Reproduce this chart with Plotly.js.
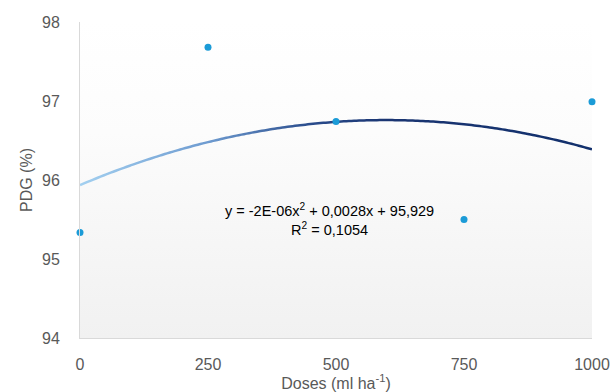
<!DOCTYPE html>
<html>
<head>
<meta charset="utf-8">
<script src="https://cdn.plot.ly/plotly-3.0.1.min.js"></script>
<style>html,body{margin:0;padding:0;background:#fff;}#chart{width:613px;height:392px;}</style>
</head>
<body>
<div id="chart"></div>
<script>
// Data
const doses = [0, 250, 500, 750, 1000];
const pdg = [95.335, 97.68, 96.74, 95.5, 96.99];
const xTicks = [0, 250, 500, 750, 1000];
const yTicks = [94, 95, 96, 97, 98];
const equationText = 'y = -2E-06x<sup>2</sup> + 0,0028x + 95,929<br>R<sup>2</sup> = 0,1054';
const xTitle = 'Doses (ml ha<sup>-1</sup>)';
const yTitle = 'PDG (%)';

// Polynomial (order 2) least-squares trendline computed from the data
function polyFit2(xs, ys) {
  let S = [0,0,0,0,0], T = [0,0,0];
  for (let i = 0; i < xs.length; i++) {
    let p = 1;
    for (let k = 0; k < 5; k++) { S[k] += p; if (k < 3) T[k] += p * ys[i]; p *= xs[i]; }
  }
  const A = [[S[0],S[1],S[2],T[0]],[S[1],S[2],S[3],T[1]],[S[2],S[3],S[4],T[2]]];
  for (let c = 0; c < 3; c++) {
    for (let r = c + 1; r < 3; r++) {
      const f = A[r][c] / A[c][c];
      for (let k = c; k < 4; k++) A[r][k] -= f * A[c][k];
    }
  }
  const coef = [0,0,0];
  for (let r = 2; r >= 0; r--) {
    let s = A[r][3];
    for (let k = r + 1; k < 3; k++) s -= A[r][k] * coef[k];
    coef[r] = s / A[r][r];
  }
  return coef; // c0 + c1 x + c2 x^2
}
const coef = polyFit2(doses, pdg);
const trendX = [], trendY = [];
for (let i = 0; i <= 100; i++) {
  const x = doses[0] + (doses[doses.length-1] - doses[0]) * i / 100;
  trendX.push(x);
  trendY.push(coef[0] + coef[1]*x + coef[2]*x*x);
}

const font = 'Liberation Sans, Arial, sans-serif';
const traces = [
  {x: trendX, y: trendY, type: 'scatter', mode: 'lines',
   line: {color: '#1F3C7A', width: 2.5, shape: 'spline'}, hoverinfo: 'skip', showlegend: false},
  {x: doses, y: pdg, type: 'scatter', mode: 'markers',
   marker: {color: '#1B9BD7', size: 7}, showlegend: false, cliponaxis: false}
];
const layout = {
  width: 613, height: 392,
  margin: {l: 80, r: 21, t: 22, b: 54},
  paper_bgcolor: '#ffffff',
  plot_bgcolor: '#f7f7f7',
  font: {family: font, color: '#595959', size: 16},
  showlegend: false,
  xaxis: {
    range: [0, 1000], tickvals: xTicks, ticktext: xTicks.map(String),
    showgrid: false, zeroline: false, showline: true, linecolor: '#D9D9D9', linewidth: 1,
    ticks: 'outside', ticklen: 12, tickcolor: 'rgba(0,0,0,0)',
    tickfont: {size: 16, color: '#595959'},
    title: {text: xTitle, font: {size: 16, color: '#595959'}, standoff: 8},
    fixedrange: true
  },
  yaxis: {
    range: [94, 98], tickvals: yTicks, ticktext: yTicks.map(String),
    showgrid: false, zeroline: false, showline: true, linecolor: '#D9D9D9', linewidth: 1,
    ticks: 'outside', ticklen: 16, tickcolor: 'rgba(0,0,0,0)',
    tickfont: {size: 16, color: '#595959'},
    title: {text: yTitle, font: {size: 16, color: '#595959'}, standoff: 5},
    fixedrange: true
  },
  annotations: [{
    x: 488, y: 95.5, xref: 'x', yref: 'y', text: equationText, showarrow: false,
    font: {family: font, size: 14.5, color: '#000000'}, align: 'center',
    xanchor: 'center', yanchor: 'middle'
  }]
};
Plotly.newPlot('chart', traces, layout, {staticPlot: true, displayModeBar: false}).then(function(gd) {
  const svg = gd.querySelector('svg.main-svg');
  const ns = 'http://www.w3.org/2000/svg';
  let defs = svg.querySelector('defs');
  if (!defs) { defs = document.createElementNS(ns, 'defs'); svg.insertBefore(defs, svg.firstChild); }
  function grad(id, x2, y2, stops) {
    const g = document.createElementNS(ns, 'linearGradient');
    g.setAttribute('id', id);
    g.setAttribute('x1', '0'); g.setAttribute('y1', '0');
    g.setAttribute('x2', x2); g.setAttribute('y2', y2);
    stops.forEach(function(s) {
      const st = document.createElementNS(ns, 'stop');
      st.setAttribute('offset', s[0]); st.setAttribute('stop-color', s[1]);
      g.appendChild(st);
    });
    defs.appendChild(g);
  }
  grad('bgGrad', '0', '1', [['0', '#ffffff'], ['0.35', '#fcfcfc'], ['1', '#f1f1f1']]);
  grad('lineGrad', '1', '0', [['0', '#A3D0F0'], ['0.25', '#6E9BD0'], ['0.45', '#2A4C8C'], ['0.6', '#1A3572'], ['1', '#12306C']]);
  const bg = svg.querySelector('.bglayer rect.bg');
  if (bg) bg.style.fill = 'url(#bgGrad)';
  const line = svg.querySelector('.scatterlayer .trace path.js-line');
  if (line) line.style.stroke = 'url(#lineGrad)';
});
</script>
</body>
</html>
